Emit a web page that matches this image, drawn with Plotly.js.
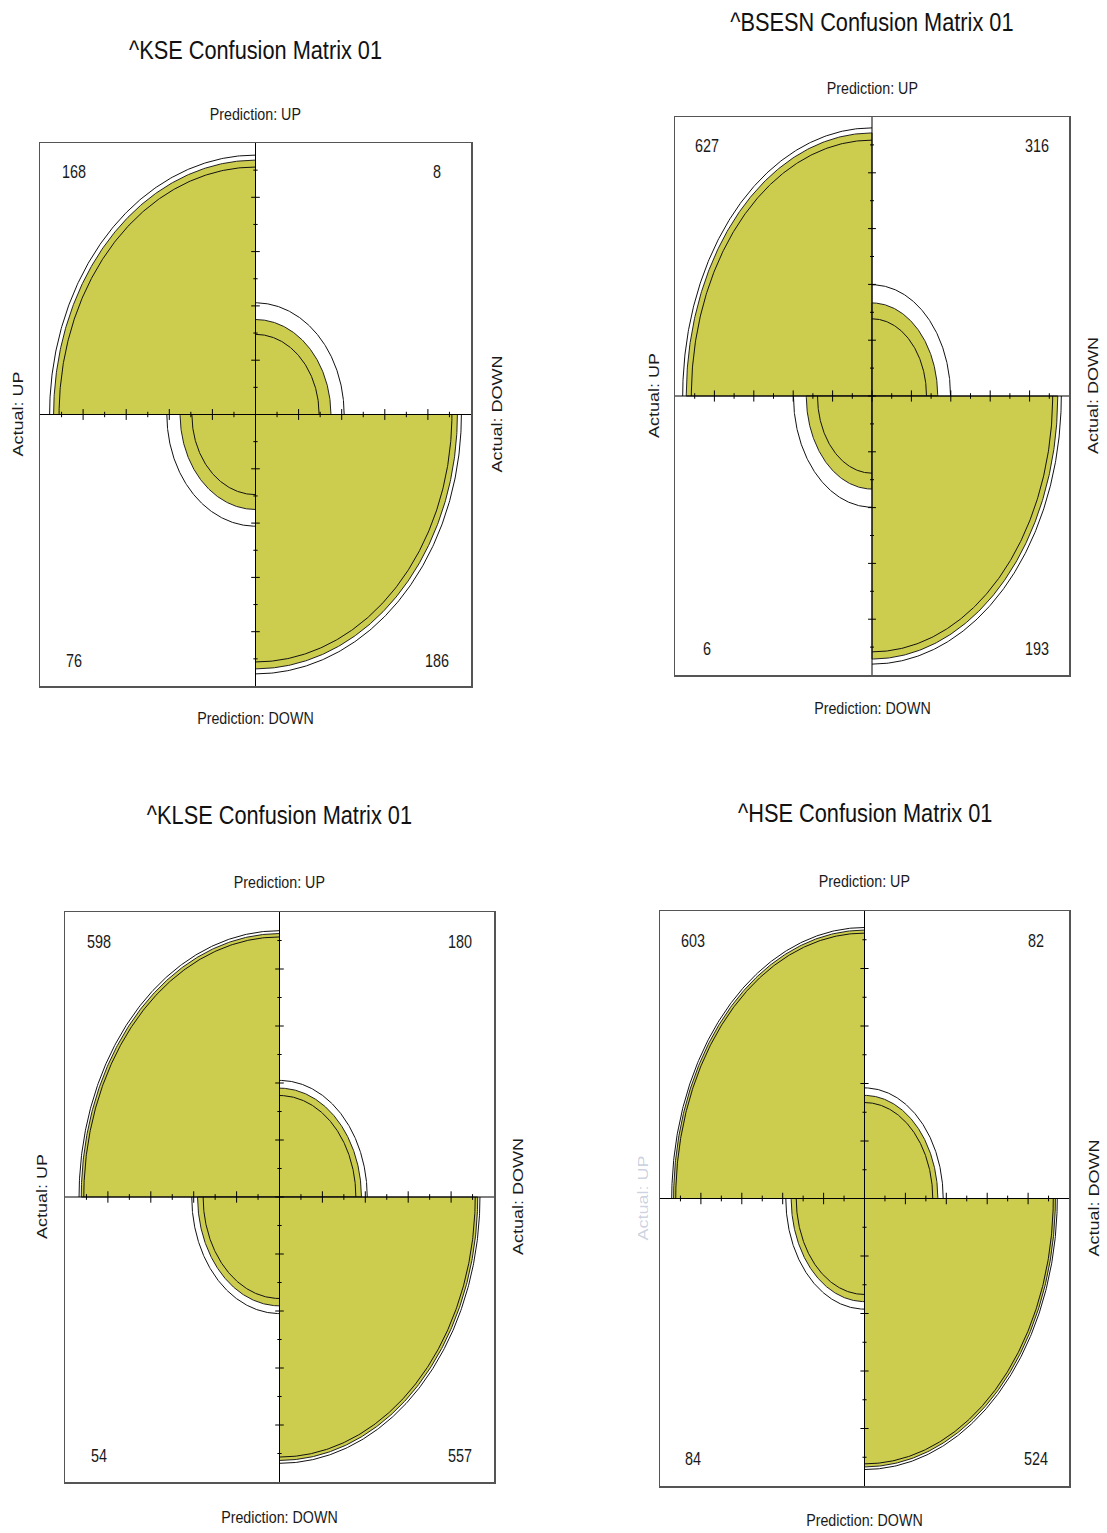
<!DOCTYPE html>
<html>
<head>
<meta charset="utf-8">
<script src="https://cdn.plot.ly/plotly-3.0.1.min.js"></script>
<style>html,body{margin:0;padding:0;background:#fff;}#chart{width:1107px;height:1533px;}</style>
</head>
<body>
<div id="chart"></div>
<script>
// ---------- DATA ----------
const titles = ['^KSE Confusion Matrix 01', '^BSESN Confusion Matrix 01', '^KLSE Confusion Matrix 01', '^HSE Confusion Matrix 01'];
const rowLabels = ['Prediction: UP', 'Prediction: DOWN'];
const colLabels = ['Actual: UP', 'Actual: DOWN'];
// cell order: [Pred UP/Actual UP, Pred UP/Actual DOWN, Pred DOWN/Actual UP, Pred DOWN/Actual DOWN]
const kseCounts   = [168, 8, 76, 186];
const bsesnCounts = [627, 316, 6, 193];
const klseCounts  = [598, 180, 54, 557];
const hseCounts   = [603, 82, 84, 524];
const allCounts = [kseCounts, bsesnCounts, klseCounts, hseCounts];

// ---------- LAYOUT (pixel boxes) ----------
const W = 1107, H = 1533;
const boxes = [
  {x0: 40,  x1: 471,  y0: 143, y1: 686,  titleY: 50,  topY: 114, botY: 718,  leftX: 17,  rightX: 496},
  {x0: 675, x1: 1069, y0: 117, y1: 675,  titleY: 22,  topY: 88,  botY: 708,  leftX: 654, rightX: 1093},
  {x0: 65,  x1: 494,  y0: 912, y1: 1482, titleY: 815, topY: 882, botY: 1517, leftX: 42,  rightX: 518},
  {x0: 660, x1: 1069, y0: 911, y1: 1486, titleY: 813, topY: 881, botY: 1520, leftX: 642, rightX: 1093}
];
const FILL = '#CCCC4E';
const FONT = '"Liberation Sans", Arial, sans-serif';

const quadAngles = [[90, 180], [0, 90], [180, 270], [270, 360]];

function stdFromOR(or) {
  const s = Math.sqrt(or), u = s / (1 + s);
  return [u, 1 - u, 1 - u, u];
}
function oddsRatio(c) { return c[0] * c[3] / (c[1] * c[2]); }
function confInt(c) {
  const lor = Math.log(oddsRatio(c));
  const se = Math.sqrt(c.reduce((s, v) => s + 1 / v, 0));
  const z = 1.959964;
  return [Math.exp(lor - z * se), Math.exp(lor + z * se)];
}
function arc(r, a0, a1, n) {
  const xs = [], ys = [];
  for (let i = 0; i <= n; i++) {
    const t = (a0 + (a1 - a0) * i / n) * Math.PI / 180;
    xs.push(r * Math.cos(t)); ys.push(r * Math.sin(t));
  }
  return {xs, ys};
}

const traces = [];
const annotations = [];
const squeeze = []; // per annotation: [scale, rotated]
const layout = {
  width: W, height: H, margin: {l: 0, r: 0, t: 0, b: 0},
  paper_bgcolor: '#fff', plot_bgcolor: '#fff', showlegend: false,
  annotations: annotations
};

const px = x => x / W;
const py = y => 1 - y / H;
function addAnn(a, s, rot) { annotations.push(a); squeeze.push([s, rot]); }

allCounts.forEach((counts, k) => {
  const b = boxes[k];
  const sfx = k === 0 ? '' : String(k + 1);
  const xa = 'x' + sfx, ya = 'y' + sfx;
  const axCommon = {range: [-1, 1], showgrid: false, zeroline: false, showticklabels: false, ticks: '',
    showline: true, mirror: true, linecolor: '#555', linewidth: 1.5, fixedrange: true};
  layout['xaxis' + sfx] = Object.assign({}, axCommon, {domain: [px(b.x0), px(b.x1)], anchor: ya});
  layout['yaxis' + sfx] = Object.assign({}, axCommon, {domain: [py(b.y1), py(b.y0)], anchor: xa});

  // filled quarter discs
  const st = stdFromOR(oddsRatio(counts));
  st.forEach((v, q) => {
    const r = Math.sqrt(v);
    const a = arc(r, quadAngles[q][0], quadAngles[q][1], 200);
    traces.push({type: 'scatter', mode: 'lines', xaxis: xa, yaxis: ya,
      x: [0].concat(a.xs, [0]), y: [0].concat(a.ys, [0]),
      fill: 'toself', fillcolor: FILL, line: {color: '#222', width: 1}, hoverinfo: 'skip'});
  });

  // confidence rings
  const ci = confInt(counts);
  ci.forEach(orb => {
    const sb = stdFromOR(orb);
    const xs = [], ys = [];
    sb.forEach((v, q) => {
      const a = arc(Math.sqrt(v), quadAngles[q][0], quadAngles[q][1], 200);
      xs.push(...a.xs, null); ys.push(...a.ys, null);
    });
    traces.push({type: 'scatter', mode: 'lines', xaxis: xa, yaxis: ya, x: xs, y: ys,
      line: {color: '#111', width: 1}, hoverinfo: 'skip', connectgaps: false});
  });

  // axes cross and tick marks
  const cx = [-1, 1, null, 0, 0, null], cy = [0, 0, null, -1, 1, null];
  for (let i = 0; i < 9; i++) {
    const t = -0.8 + 0.2 * i;
    cx.push(t, t, null, -0.02, 0.02, null);
    cy.push(-0.02, 0.02, null, t, t, null);
  }
  for (let i = 0; i < 10; i++) {
    const t = -0.9 + 0.2 * i;
    cx.push(t, t, null, -0.01, 0.01, null);
    cy.push(-0.01, 0.01, null, t, t, null);
  }
  traces.push({type: 'scatter', mode: 'lines', xaxis: xa, yaxis: ya, x: cx, y: cy,
    line: {color: '#000', width: 1}, hoverinfo: 'skip'});

  // counts
  const cpos = [[-0.84, 0.895], [0.84, 0.895], [-0.84, -0.907], [0.84, -0.907]];
  counts.forEach((c, q) => {
    addAnn({xref: xa, yref: ya, x: cpos[q][0], y: cpos[q][1], text: String(c), showarrow: false,
      font: {family: FONT, size: 18, color: '#1a1a1a'}, xanchor: 'center', yanchor: 'middle'}, 0.8, false);
  });

  const cxp = (b.x0 + b.x1) / 2, cyp = (b.y0 + b.y1) / 2;
  addAnn({xref: 'paper', yref: 'paper', x: px(cxp), y: py(b.titleY), text: titles[k], showarrow: false,
    font: {family: FONT, size: 25, color: '#111'}, xanchor: 'center', yanchor: 'middle'}, 0.87, false);
  addAnn({xref: 'paper', yref: 'paper', x: px(cxp), y: py(b.topY), text: rowLabels[0], showarrow: false,
    font: {family: FONT, size: 17, color: '#1a1a1a'}, xanchor: 'center', yanchor: 'middle'}, 0.84, false);
  addAnn({xref: 'paper', yref: 'paper', x: px(cxp), y: py(b.botY), text: rowLabels[1], showarrow: false,
    font: {family: FONT, size: 17, color: '#1a1a1a'}, xanchor: 'center', yanchor: 'middle'}, 0.84, false);
  const faint = (k === 3);
  addAnn({xref: 'paper', yref: 'paper', x: px(b.leftX), y: py(cyp), text: colLabels[0], showarrow: false,
    textangle: -90, font: {family: FONT, size: 18, color: faint ? 'rgba(80,100,150,0.3)' : '#1a1a1a'},
    xanchor: 'center', yanchor: 'middle'}, 0.85, true);
  addAnn({xref: 'paper', yref: 'paper', x: px(b.rightX), y: py(cyp), text: colLabels[1], showarrow: false,
    textangle: -90, font: {family: FONT, size: 18, color: '#1a1a1a'}, xanchor: 'center', yanchor: 'middle'}, 0.85, true);
});

Plotly.newPlot('chart', traces, layout, {staticPlot: true, displayModeBar: false}).then(gd => {
  // emulate the horizontally condensed lettering of the original image
  const groups = gd.querySelectorAll('g.annotation');
  groups.forEach(g => {
    const idx = +g.getAttribute('data-index');
    const sq = squeeze[idx];
    const t = g.querySelector('text.annotation-text');
    if (!sq || !t) return;
    const bb = t.getBBox();
    if (!sq[1]) {
      const c = bb.x + bb.width / 2;
      t.setAttribute('transform', `translate(${c},0) scale(${sq[0]},1) translate(${-c},0)`);
    } else {
      const c = bb.y + bb.height / 2;
      t.setAttribute('transform', `translate(0,${c}) scale(1,${sq[0]}) translate(0,${-c})`);
    }
  });
});
</script>
</body>
</html>
